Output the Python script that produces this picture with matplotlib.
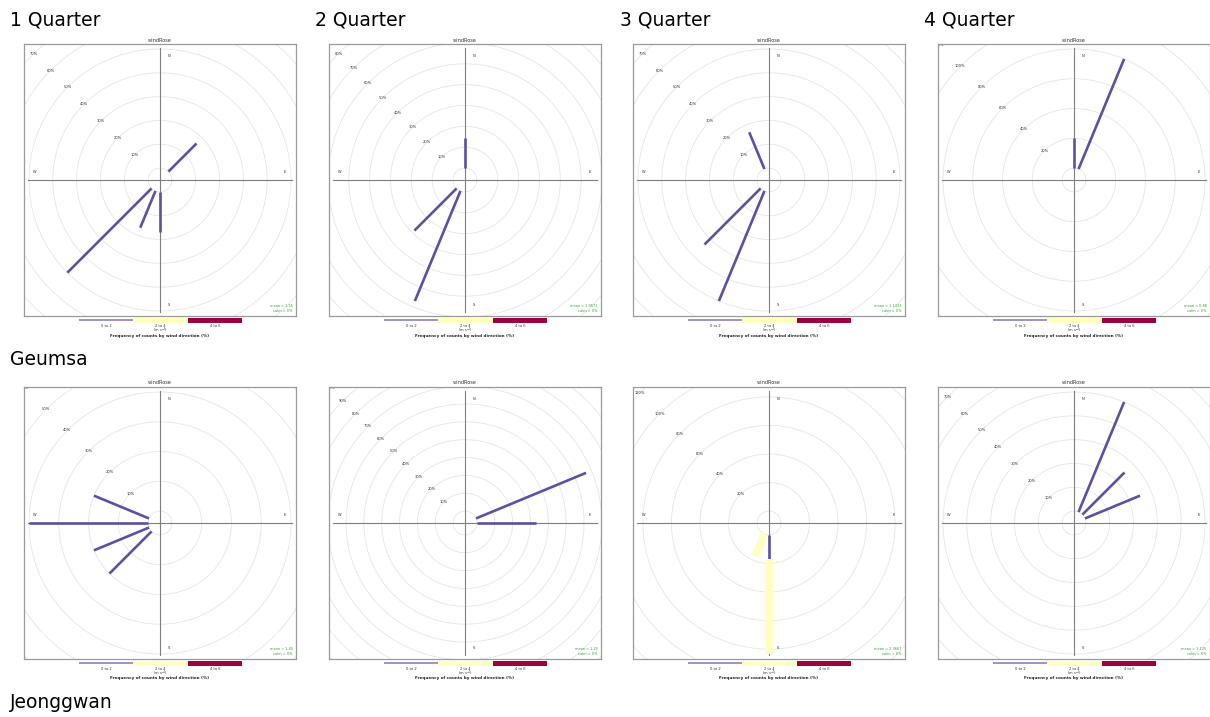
import numpy as np
import matplotlib
matplotlib.use("Agg")
import matplotlib.pyplot as plt
from matplotlib.patches import Rectangle

# figure size in pixels
W, H = 1210, 717

quarters = ["1 Quarter", "2 Quarter", "3 Quarter", "4 Quarter"]
sites = ["Geumsa", "Jeonggwan"]
ws_classes = ["0 to 2", "2 to 4", "4 to 6"]
ws_colors = ["#5E4FA2", "#FFFFBF", "#9E0142"]

# --- data: paddle directions (deg) and frequency (%) per speed class ---
geumsa_dir = [[45, 225, 202.5, 180], [0, 225, 202.5], [337.5, 225, 202.5], [0, 22.5]]
geumsa_0to2 = [[16.7, 50.0, 16.7, 16.7], [14.3, 28.6, 57.1], [16.7, 33.3, 50.0], [20.0, 80.0]]
geumsa_2to4 = [[0, 0, 0, 0], [0, 0, 0], [0, 0, 0], [0, 0]]
geumsa_grid = [10, 10, 10, 20]
geumsa_mean = ["1.55", "1.0571", "1.1333", "0.86"]

jeonggwan_dir = [[270, 292.5, 247.5, 225], [90, 67.5], [180, 202.5], [22.5, 45, 67.5]]
jeonggwan_0to2 = [[40.0, 20.0, 20.0, 20.0], [33.3, 66.7], [16.7, 0], [50.0, 25.0, 25.0]]
jeonggwan_2to4 = [[0, 0, 0, 0], [0, 0], [66.7, 16.7], [0, 0, 0]]
jeonggwan_grid = [10, 10, 20, 10]
jeonggwan_mean = ["1.45", "1.25", "2.3667", "1.125"]

# panel placement (pixels)
col_left = [24, 329, 633, 938]
row_top = [44, 387]
box = 272

paddle_lw = [1.9, 5.5, 7.0]


def fx(x):
    return x / W


def fy(y):
    return 1 - y / H


def windrose(ax, dirs, f1, f2, step, mean):
    totals = [a + b for a, b in zip(f1, f2)]
    M = max(totals)
    off = 0.1 * M
    u = off + M  # radius of longest paddle
    lim = u * 136 / 131
    ax.set_xlim(-lim, lim)
    ax.set_ylim(-lim, lim)
    ax.set_xticks([])
    ax.set_yticks([])
    for s in ax.spines.values():
        s.set_color("#9A9A9A")
        s.set_linewidth(0.9)

    # grid circles
    t = np.linspace(0, 2 * np.pi, 400)
    r = off
    k = 0
    while r < lim * 1.5:
        ax.plot(r * np.cos(t), r * np.sin(t), color="#E6E6E6", lw=0.6, zorder=1)
        if k > 0:
            ax.text(-r * np.sin(np.pi / 4), r * np.cos(np.pi / 4), f"{k * step}%",
                    fontsize=2.6, color="#333333", ha="center", va="center",
                    clip_on=True, zorder=2)
        k += 1
        r = off + k * step

    # cross lines
    ax.plot([-u * 1.008, u * 1.008], [0, 0], color="#7F7F7F", lw=0.8, zorder=2)
    ax.plot([0, 0], [-u * 1.008, u * 1.008], color="#7F7F7F", lw=0.8, zorder=2)
    c = u / 131
    for lab, x, y in [("N", 9, 124), ("E", 125, 8), ("S", 9, -125), ("W", -125, 8)]:
        ax.text(x * c, y * c, lab, fontsize=2.6, color="#333333", ha="center", va="center")

    # paddles, stacked by speed class
    for d, a, b in zip(dirs, f1, f2):
        th = np.deg2rad(d)
        start = off
        for i, f in enumerate([a, b]):
            if f <= 0:
                continue
            end = start + f
            ax.plot([start * np.sin(th), end * np.sin(th)],
                    [start * np.cos(th), end * np.cos(th)],
                    color=ws_colors[i], lw=paddle_lw[i], solid_capstyle="butt", zorder=3)
            start = end

    ax.text(0.988, 0.012, f"mean = {mean}\ncalm = 0%", transform=ax.transAxes,
            ha="right", va="bottom", fontsize=2.5, color="#33A02C", linespacing=1.3)


fig = plt.figure(figsize=(W / 100, H / 100), dpi=100)

site_data = [
    (geumsa_dir, geumsa_0to2, geumsa_2to4, geumsa_grid, geumsa_mean),
    (jeonggwan_dir, jeonggwan_0to2, jeonggwan_2to4, jeonggwan_grid, jeonggwan_mean),
]

for row, (dirs, f1, f2, grid, means) in enumerate(site_data):
    T = row_top[row]
    for col in range(4):
        L = col_left[col]
        ax = fig.add_axes([fx(L), fy(T + box), box / W, box / H])
        windrose(ax, dirs[col], f1[col], f2[col], grid[col], means[col])

        cx = L + box / 2
        fig.text(fx(cx), fy(T - 4), "windRose", fontsize=3.6, color="#333333",
                 ha="center", va="center")
        # legend keys
        kx = L + 55
        kw = 163 / 3
        for i, lab in enumerate(ws_classes):
            if i == 0:
                rect = Rectangle((fx(kx), fy(T + box + 4.5)), kw / W, 1.2 / H,
                                 transform=fig.transFigure, color=ws_colors[0],
                                 alpha=0.6, lw=0)
            else:
                rect = Rectangle((fx(kx + i * kw), fy(T + box + 6.5)), kw / W, 5 / H,
                                 transform=fig.transFigure, color=ws_colors[i], lw=0)
            fig.add_artist(rect)
            fig.text(fx(kx + (i + 0.5) * kw), fy(T + box + 9.5), lab, fontsize=2.6,
                     color="#333333", ha="center", va="center")
        fig.text(fx(cx), fy(T + box + 14.5), r"(m s$^{-1}$)", fontsize=2.6,
                 color="#333333", ha="center", va="center")
        fig.text(fx(cx), fy(T + box + 19.5), "Frequency of counts by wind direction (%)",
                 fontsize=3.0, fontweight="bold", color="#222222", ha="center", va="center")

title_font = ["DejaVu Sans"]
quarter_x = [10, 315, 620, 924]
for q, x in zip(quarters, quarter_x):
    fig.text(fx(x), fy(26), q, fontsize=13.5, family=title_font, ha="left", va="baseline")

site_y = [365, 708]
for s, y in zip(sites, site_y):
    fig.text(fx(10), fy(y), s, fontsize=13.5, family=title_font, ha="left", va="baseline")

fig.savefig("out.png", dpi=100)
